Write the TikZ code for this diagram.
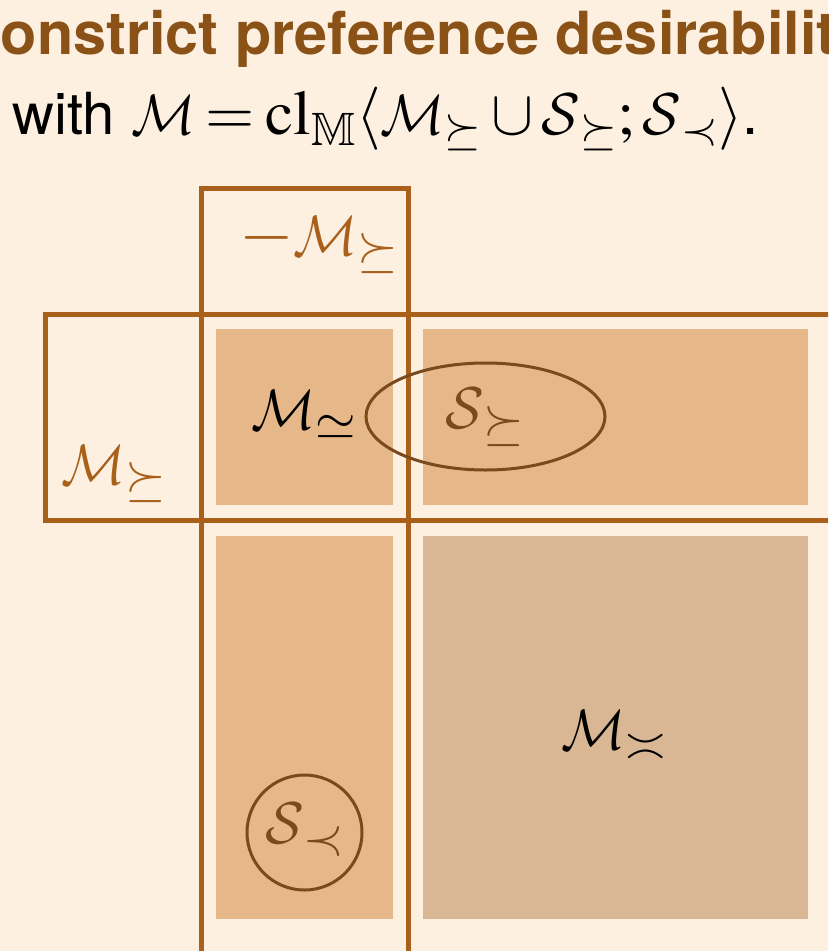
\documentclass[tikz,border=0pt]{standalone}
\usepackage{amsmath}
\usepackage{mathptmx}
\usepackage{amssymb}
\DeclareMathAlphabet{\mathcal}{OMS}{lmsy}{m}{n}
\usepackage{fontspec}
\newfontfamily\headfont{TeX Gyre Heros}
\usepackage{tikz}
\usetikzlibrary{positioning}

\newcommand{\calM}{\text{\scalebox{1.22}[1.3]{$\mathcal{M}$}}}
\newcommand{\calS}{\text{\scalebox{1.3}[1.35]{$\mathcal{S}$}}}

\definecolor{bgcream}{HTML}{FDF0E1}
\definecolor{framebrown}{HTML}{A8601A}
\definecolor{titlebrown}{HTML}{8B5218}
\definecolor{cellfill}{HTML}{E6B789}
\definecolor{cellfilldark}{HTML}{D9B794}
\definecolor{setbrown}{HTML}{7B4A1C}

\begin{document}
\begin{tikzpicture}[x=0.2mm, y=-0.2mm,
  frame/.style={draw=framebrown, line width=1mm},
  cell/.style={fill=cellfill},
  setline/.style={draw=setbrown, line width=0.6mm},
  lab/.style={inner sep=0pt, font=\fontsize{40}{46}\selectfont},
  head/.style={inner sep=0pt, anchor=base west, font=\fontsize{33}{40}\selectfont\headfont}]

  \useasboundingbox (0,0) rectangle (828,951);
  \clip (0,0) rectangle (828,951);
  \fill[bgcream] (0,0) rectangle (828,951);

  % heading
  \node[head, text=titlebrown, font=\fontsize{33.8}{40}\selectfont\headfont\bfseries]
    (title) at (-43,55) {Nonstrict preference desirability};
  \node[head] (defn) at (12,135)
    {with {\fontsize{36}{44}\selectfont$\calM\mkern-1mu=\mkern-1mu\mathrm{cl}_{\mathbb{M}}\langle\calM_{\succeq}\cup\calS_{\succeq};\calS_{\prec}\rangle$}.};

  % cells
  \fill[cell] (216,329) rectangle (393,505);
  \fill[cell] (423,329) rectangle (808,505);
  \fill[cell] (216,536) rectangle (393,919);
  \fill[cellfilldark] (423,536) rectangle (808,919);

  % frames
  \draw[frame] (201,188) rectangle (408,980);
  \draw[frame] (45,314) rectangle (860,520);

  % sets
  \draw[setline] (485.5,416.5) ellipse [x radius=119.5, y radius=53.5];
  \draw[setline] (304.5,832.5) circle [radius=57.5];

  % labels
  \node[lab, text=framebrown] (negM) at (319,244) {$-\calM_{\succeq}$};
  \node[lab, text=framebrown] (Mpref) at (114,474) {$\calM_{\succeq}$};
  \node[lab] (Mindiff) at (304,415) {$\calM_{\simeq}$};
  \node[lab, text=setbrown] (Spref) at (485,417) {$\calS_{\succeq}$};
  \node[lab] (Mincomp) at (614,735) {$\calM_{\asymp}$};
  \node[lab, text=setbrown] (Sstrict) at (305,830) {$\calS_{\prec}$};
\end{tikzpicture}
\end{document}
